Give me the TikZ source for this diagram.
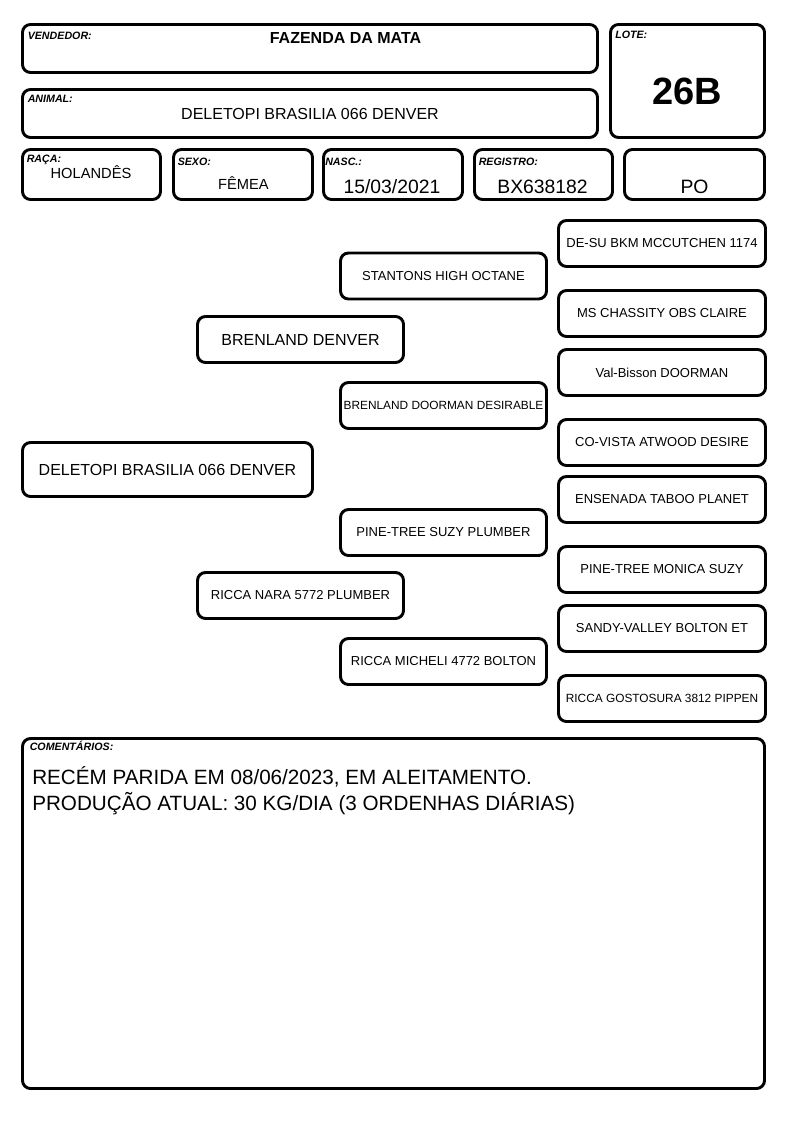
\documentclass[tikz,border=0pt]{standalone}
\usepackage{fontspec}
\setmainfont{Liberation Sans}

\begin{document}
\begin{tikzpicture}[x=0.75pt,y=-0.75pt,
  caixa/.style 2 args={draw,line width=2.2pt,rounded corners=6pt,
    minimum width=#1*0.75pt,minimum height=#2*0.75pt,inner sep=0pt},
  rotulo/.style={anchor=base west,inner sep=0pt,
    font=\fontsize{8}{9}\selectfont\bfseries\itshape},
  valor/.style={anchor=base,inner sep=0pt,font=\fontsize{#1}{#1}\selectfont},
  bisavo/.style={caixa={207}{46},font=\fontsize{9.75}{11}\selectfont},
  avo/.style={caixa={206}{46},font=\fontsize{9.75}{11}\selectfont}]
  \useasboundingbox (0,0) rectangle (794,1123);

  % cabecalho
  \node[caixa={575}{48}] (vend) at (310,48.5) {};
  \node[caixa={575}{48}] (anim) at (310,113.5) {};
  \node[caixa={154}{113}] (lote) at (687.5,81) {};
  \node[caixa={138}{50}] (raca) at (91.5,174.5) {};
  \node[caixa={139}{50}] (sexo) at (243,174.5) {};
  \node[caixa={139}{50}] (nasc) at (393,174.5) {};
  \node[caixa={138}{50}] (reg) at (543.5,174.5) {};
  \node[caixa={140}{50}] (po) at (694.5,174.5) {};

  \node[rotulo] (vendr) at (27.5,39.3) {VENDEDOR:};
  \node[rotulo] (animr) at (27.5,102.5) {ANIMAL:};
  \node[rotulo] (loter) at (615,38.7) {LOTE:};
  \node[rotulo] (racar) at (26.5,162.7) {RAÇA:};
  \node[rotulo] (sexor) at (177.5,165.5) {SEXO:};
  \node[rotulo] (nascr) at (325,165.5) {NASC.:};
  \node[rotulo] (regr) at (478.5,165.5) {REGISTRO:};

  \node[valor=12,font=\fontsize{12}{12}\selectfont\bfseries] (vendv) at (345.5,43.3) {FAZENDA DA MATA};
  \node[valor=12] (animv) at (310,119.3) {DELETOPI BRASILIA 066 DENVER};
  \node[valor=28.5,font=\fontsize{28.5}{30}\selectfont\bfseries] (lotev) at (687,105) {26B};
  \node[valor=11] (racav) at (91,178.3) {HOLANDÊS};
  \node[valor=11] (sexov) at (243.5,189.3) {FÊMEA};
  \node[valor=14.5] (nascv) at (392,193.3) {15/03/2021};
  \node[valor=14.5] (regv) at (542.5,193.3) {BX638182};
  \node[valor=14.5] (pov) at (694.5,193.3) {PO};

  % genealogia
  \node[caixa={290}{54},font=\fontsize{12}{14}\selectfont] (animal) at (167.5,469.5) {DELETOPI BRASILIA 066 DENVER};

  \node[avo,font=\fontsize{12}{14}\selectfont] (pai) at (300.5,339.5) {BRENLAND DENVER};
  \node[avo] (mae) at (300.5,595.5) {RICCA NARA 5772 PLUMBER};

  \node[avo] (av1) at (443.5,276) {STANTONS HIGH OCTANE};
  \node[avo,font=\fontsize{8.9}{10}\selectfont] (av2) at (443.5,405.5) {BRENLAND DOORMAN DESIRABLE};
  \node[avo] (av3) at (443.5,532.5) {PINE-TREE SUZY PLUMBER};
  \node[avo] (av4) at (443.5,661.5) {RICCA MICHELI 4772 BOLTON};

  \node[bisavo] (bb1) at (662,243.5) {DE-SU BKM MCCUTCHEN 1174};
  \node[bisavo] (bb2) at (662,313.5) {MS CHASSITY OBS CLAIRE};
  \node[bisavo] (bb3) at (662,372.5) {Val-Bisson DOORMAN};
  \node[bisavo] (bb4) at (662,442.5) {CO-VISTA ATWOOD DESIRE};
  \node[bisavo] (bb5) at (662,499.5) {ENSENADA TABOO PLANET};
  \node[bisavo] (bb6) at (662,569.5) {PINE-TREE MONICA SUZY};
  \node[bisavo] (bb7) at (662,628.5) {SANDY-VALLEY BOLTON ET};
  \node[bisavo,font=\fontsize{8.9}{10}\selectfont] (bb8) at (662,698.5) {RICCA GOSTOSURA 3812 PIPPEN};

  % comentarios
  \node[caixa={742}{350}] (coment) at (393.5,913.5) {};
  \node[rotulo] (comr) at (29.5,750.7) {COMENTÁRIOS:};
  \node[valor=15.5,anchor=base west] (com1) at (32,784) {RECÉM PARIDA EM 08/06/2023, EM ALEITAMENTO.};
  \node[valor=15.5,anchor=base west] (com2) at (32,810) {PRODUÇÃO ATUAL: 30 KG/DIA (3 ORDENHAS DIÁRIAS)};
\end{tikzpicture}
\end{document}
